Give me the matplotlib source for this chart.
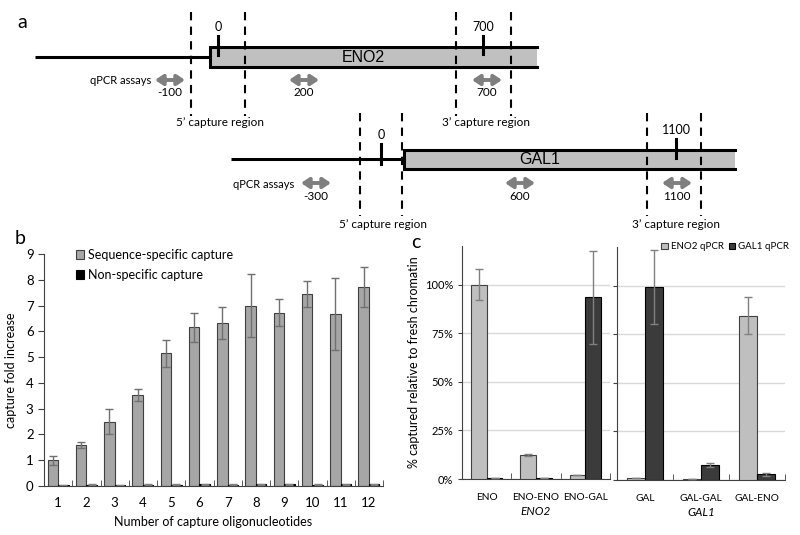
import matplotlib
matplotlib.use('Agg')
import matplotlib.pyplot as plt
import numpy as np
from matplotlib.patches import Rectangle
from matplotlib.ticker import FixedLocator, PercentFormatter

plt.rcParams['font.family'] = ['Lato', 'DejaVu Sans']

# ---- 面板 b 数据 ----
n_oligo = [str(i) for i in range(1, 13)]
seq_specific = [1.00, 1.60, 2.50, 3.53, 5.15, 6.15, 6.32, 7.00, 6.72, 7.45, 6.68, 7.72]
seq_err = [0.18, 0.11, 0.48, 0.22, 0.52, 0.56, 0.63, 1.23, 0.53, 0.50, 1.40, 0.78]
non_specific = [0.02, 0.05, 0.03, 0.05, 0.04, 0.06, 0.05, 0.06, 0.06, 0.05, 0.06, 0.06]
non_err = [0.02, 0.03, 0.02, 0.03, 0.02, 0.03, 0.03, 0.03, 0.03, 0.02, 0.03, 0.03]

# ---- 面板 c 数据 ----
eno_groups = ['ENO', 'ENO-ENO', 'ENO-GAL']
eno_eno2 = [1.00, 0.125, 0.02]
eno_eno2_err = [0.08, 0.006, 0.0]
eno_gal1 = [0.005, 0.006, 0.935]
eno_gal1_err = [0.0, 0.0, 0.24]
gal_groups = ['GAL', 'GAL-GAL', 'GAL-ENO']
gal_eno2 = [0.008, 0.005, 0.845]
gal_eno2_err = [0.0, 0.0, 0.095]
gal_gal1 = [0.995, 0.075, 0.03]
gal_gal1_err = [0.19, 0.01, 0.007]

# ---- 面板 a 标签 ----
eno_marks = ['0', '700']
eno_assays = ['-100', '200', '700']
gal_marks = ['0', '1100']
gal_assays = ['-300', '600', '1100']

fig = plt.figure(figsize=(8, 5.35), dpi=100)

# 面板 a：示意图（像素坐标）
ax0 = fig.add_axes([0, 0, 1, 1])
ax0.set_xlim(0, 800)
ax0.set_ylim(535, 0)
ax0.axis('off')


def draw_gene(name, y, x0, bx0, bx1, half, name_x, mark_x, marks, tick_top, tick_bot,
              cap5, cap3, dash_top, dash_bot, cap_y, qpcr_x, arrow_x, assays, arrow_y):
    ax0.plot([x0, bx0], [y, y], color='black', lw=2.2, solid_capstyle='butt')
    ax0.add_patch(Rectangle((bx0, y - half), bx1 - bx0, 2 * half, facecolor='#c0c0c0',
                            edgecolor='none'))
    ax0.plot([bx1, bx0, bx0, bx1], [y - half, y - half, y + half, y + half],
             color='black', lw=2.2, solid_joinstyle='miter')
    ax0.text(name_x, y + 1, name, ha='center', va='center', fontsize=11.5,
             family='Liberation Sans')
    for mx, lab, t, b in zip(mark_x, marks, tick_top, tick_bot):
        ax0.plot([mx, mx], [t, b], color='black', lw=2.2)
        ax0.text(mx, t - 9, lab, ha='center', va='center', fontsize=9)
    for pair in (cap5, cap3):
        for dx in pair:
            ax0.plot([dx, dx], [dash_top, dash_bot], color='black', lw=1.5,
                     linestyle=(0, (4, 3)))
    ax0.text(sum(cap5) / 2 + 2, cap_y, "5\u2019 capture region", ha='center', va='center', fontsize=8.5)
    ax0.text(sum(cap3) / 2 + 2, cap_y, "3\u2019 capture region", ha='center', va='center', fontsize=8.5)
    ax0.text(qpcr_x, arrow_y + 1, 'qPCR assays', ha='right', va='center', fontsize=8)
    for ax_, lab in zip(arrow_x, assays):
        ax0.annotate('', xy=(ax_ + 15, arrow_y), xytext=(ax_ - 15, arrow_y),
                     arrowprops=dict(arrowstyle='<|-|>,head_length=0.45,head_width=0.3',
                                     color='#7f7f7f', lw=2.8, shrinkA=0, shrinkB=0))
        ax0.text(ax_, arrow_y + 13, lab, ha='center', va='center', fontsize=8.5)


draw_gene('ENO2', 57, 35, 210, 537, 10, 363, [218, 483], eno_marks, [36, 36], [55, 54],
          (191, 245), (456, 511), 12, 116, 123, 151, [170, 304, 487], eno_assays, 80)
draw_gene('GAL1', 159, 231, 404, 735, 9.5, 540, [381, 676], gal_marks, [144, 139], [164, 158],
          (360, 402), (647, 701), 113, 216, 224, 294, [316, 520, 677], gal_assays, 183)

ax0.text(22, 22, 'a', ha='center', va='center', fontsize=14)
ax0.text(20, 239, 'b', ha='center', va='center', fontsize=14)
ax0.text(416, 242, 'c', ha='center', va='center', fontsize=14)

# 面板 b
axb = fig.add_axes([44 / 800, 1 - 486 / 535, 339 / 800, 232 / 535])
x = np.arange(len(n_oligo))
w = 0.37
axb.bar(x - w / 2, seq_specific, w, color='#a6a6a6', edgecolor='#404040', lw=0.8,
        label='Sequence-specific capture',
        yerr=seq_err, error_kw=dict(ecolor='#707070', elinewidth=1, capsize=3, capthick=1))
axb.bar(x + w / 2, non_specific, w, color='black', edgecolor='black', lw=0.8,
        label='Non-specific capture',
        yerr=non_err, error_kw=dict(ecolor='#808080', elinewidth=1, capsize=3, capthick=1))
axb.set_xlim(-0.5, len(n_oligo) - 0.5)
axb.set_ylim(0, 9)
axb.set_yticks(range(10))
axb.set_xticks(x)
axb.set_xticklabels(n_oligo)
axb.xaxis.set_minor_locator(FixedLocator(np.arange(-0.5, len(n_oligo), 1)))
axb.tick_params(axis='x', which='major', length=0, labelsize=9.5, pad=8)
axb.tick_params(axis='x', which='minor', length=4, direction='in', color='#404040')
axb.tick_params(axis='y', labelsize=9.5, length=4, color='#404040')
for s in ('top', 'right'):
    axb.spines[s].set_visible(False)
for s in ('left', 'bottom'):
    axb.spines[s].set_color('#404040')
axb.set_ylabel('capture fold increase', fontsize=9, labelpad=6)
axb.set_xlabel('Number of capture oligonucleotides', fontsize=9, labelpad=5)
axb.legend(loc='upper left', bbox_to_anchor=(0.06, 1.07), frameon=False, fontsize=9,
           handlelength=0.7, handleheight=0.7, handletextpad=0.3, labelspacing=0.6)

# 面板 c
light = '#bfbfbf'
dark = '#3b3b3b'
ekw = dict(ecolor='#808080', elinewidth=1, capsize=3, capthick=1)
wc = 0.32


def draw_c(ax, groups, e2, e2err, g1, g1err, title):
    xc = np.arange(len(groups))
    ax.bar(xc - wc / 2, e2, wc, color=light, edgecolor='#404040', lw=0.8,
           yerr=e2err, error_kw=ekw, label='ENO2 qPCR', zorder=3)
    ax.bar(xc + wc / 2, g1, wc, color=dark, edgecolor='black', lw=0.8,
           yerr=g1err, error_kw=ekw, label='GAL1 qPCR', zorder=3)
    ax.set_xlim(-0.5, len(groups) - 0.5)
    ax.set_ylim(0, 1.2)
    ax.set_yticks([0, 0.25, 0.5, 0.75, 1.0])
    ax.yaxis.set_major_formatter(PercentFormatter(1.0, decimals=0))
    ax.grid(axis='y', color='#d9d9d9', lw=1, zorder=0)
    ax.set_axisbelow(True)
    ax.set_xticks(xc)
    ax.set_xticklabels(groups)
    ax.xaxis.set_minor_locator(FixedLocator(np.arange(-0.5, len(groups), 1)))
    ax.tick_params(axis='x', which='major', length=0, labelsize=7.3, pad=10)
    ax.tick_params(axis='x', which='minor', length=4, direction='in', color='#404040')
    ax.tick_params(axis='y', labelsize=8, length=3, color='#404040')
    for s in ('top', 'right'):
        ax.spines[s].set_visible(False)
    for s in ('left', 'bottom'):
        ax.spines[s].set_color('#404040')
    ax.set_xlabel(title, fontsize=8.5, style='italic', labelpad=3)


axc1 = fig.add_axes([462 / 800, 1 - 479 / 535, 148 / 800, 233 / 535])
draw_c(axc1, eno_groups, eno_eno2, eno_eno2_err, eno_gal1, eno_gal1_err, 'ENO2')
axc1.set_ylabel('% captured relative to fresh chromatin', fontsize=9, labelpad=3)

axc2 = fig.add_axes([617 / 800, 1 - 480 / 535, 168 / 800, 233 / 535])
draw_c(axc2, gal_groups, gal_eno2, gal_eno2_err, gal_gal1, gal_gal1_err, 'GAL1')
axc2.set_yticklabels([])
axc2.legend(loc='upper right', bbox_to_anchor=(1.06, 1.045), ncol=2, frameon=False,
            fontsize=7, handlelength=0.7, handleheight=0.7, handletextpad=0.3,
            columnspacing=0.5, borderaxespad=0.2)

fig.savefig('out.png', dpi=100)
